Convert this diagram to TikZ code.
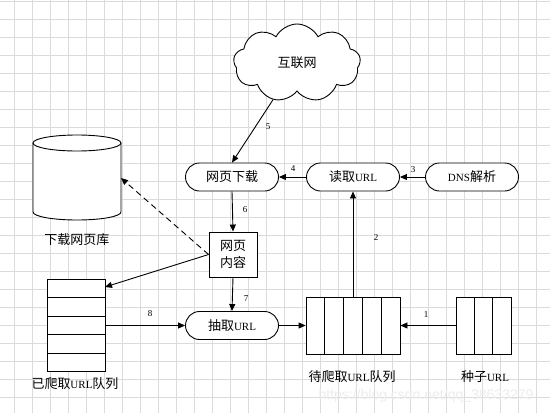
\documentclass[tikz,border=0pt]{standalone}
\usepackage{fontspec}
\setmainfont{Liberation Serif}
\newfontfamily\cjk{Noto Sans CJK SC}
\newfontfamily\wmfont{Liberation Sans}
\usetikzlibrary{arrows.meta,shapes.symbols}
\newcommand\myurl[1]{{\rmfamily\fontsize{11}{13}\selectfont #1}}
\begin{document}
\begin{tikzpicture}[x=1pt,y=-1pt,
  ln/.style={line width=0.9pt},
  arr/.style={ln,-{Triangle[length=7pt,width=6pt]}},
  stad/.style={draw,ln,fill=white,rounded corners=14pt,minimum width=93pt,minimum height=28pt,inner sep=0pt,font=\fontsize{13}{15}\selectfont\cjk},
  num/.style={font=\fontsize{9}{10}\selectfont,inner sep=1pt},
  lbl/.style={font=\fontsize{13}{15}\selectfont\cjk,inner sep=0pt},
  boxq/.style={draw,ln,fill=white,inner sep=0pt},
  gridline/.style={draw=black!14,line width=0.8pt}]
\useasboundingbox (0,0) rectangle (550,413);
\fill[white] (0,0) rectangle (550,413);
\foreach \i in {0,...,29} \draw[gridline] ({14+18*\i},0) -- ({14+18*\i},413);
\foreach \j in {0,...,22} \draw[gridline] (0,{1+18*\j}) -- (550,{1+18*\j});

% watermark
\node[font=\fontsize{14}{16}\selectfont\wmfont,text=black!7] (wm) at (426,396) {https://blog.csdn.net/qq\_38633279};

% cloud
\node[cloud,draw,ln,fill=white,cloud puffs=9,cloud puff arc=125,aspect=1.7,minimum width=127pt,minimum height=78pt,lbl] (cloud) at (297,63) {互联网};

% process nodes
\node[stad] (down) at (232,177) {网页下载};
\node[stad] (read) at (353,177) {读取\myurl{URL}};
\node[stad] (dns) at (472,177) {\myurl{DNS}解析};
\node[stad] (extract) at (232,325.5) {抽取\myurl{URL}};

% page content
\node[boxq,minimum width=48pt,minimum height=45pt,align=center,font=\fontsize{13}{17}\selectfont\cjk] (content) at (233,254.5) {网页\\内容};

% database cylinder
\path[fill=white] (33,143) -- (33,212) arc[start angle=180,end angle=360,x radius=44pt,y radius=8pt] -- (121,143) arc[start angle=0,end angle=180,x radius=44pt,y radius=8pt] -- cycle;
\draw[ln] (33,143) -- (33,212) arc[start angle=180,end angle=360,x radius=44pt,y radius=8pt] -- (121,143);
\draw[ln] (77,143) ellipse[x radius=44pt,y radius=8pt];
\coordinate (dbr) at (121,178);
\node[lbl] (dblabel) at (77,240) {下载网页库};

% crawled queue
\node[boxq,minimum width=58pt,minimum height=92pt] (q1) at (76,325) {};
\foreach \y in {297,316,334.5,353} \draw[ln] (47,\y) -- (105,\y);
\coordinate (q1in) at (105,287);
\node[lbl] (q1label) at (75,384) {已爬取\myurl{URL}队列};

% to-crawl queue
\node[boxq,minimum width=94pt,minimum height=57pt] (q2) at (353,325.5) {};
\foreach \x in {324.8,343.6,362.4,381.2} \draw[ln] (\x,297) -- (\x,354);
\node[lbl] (q2label) at (352,377) {待爬取\myurl{URL}队列};

% seed queue
\node[boxq,minimum width=55pt,minimum height=57pt] (q3) at (483.5,325.5) {};
\foreach \x in {474.2,492.8} \draw[ln] (\x,297) -- (\x,354);
\node[lbl] (q3label) at (485,377) {种子\myurl{URL}};

% connectors
\draw[arr] (q3.west) -- (q2.east);
\node[num] (n1) at (426,315) {1};
\draw[arr] (q2.north) -- (read.south);
\node[num] (n2) at (376,238) {2};
\draw[arr] (dns.west) -- (read.east);
\node[num] (n3) at (413,170) {3};
\draw[arr] (read.west) -- (down.east);
\node[num] (n4) at (293,169) {4};
\draw[arr] (cloud) -- (down.north);
\node[num] (n5) at (268,127) {5};
\draw[arr] (down.south) -- (content.north);
\node[num] (n6) at (245,210) {6};
\draw[arr] (content.south) -- (extract.north);
\node[num] (n7) at (246,299) {7};
\draw[arr] (q1.east |- extract.west) -- (extract.west);
\node[num] (n8) at (150,314) {8};
\draw[arr] (extract.east) -- (q2.west);
\draw[arr,dashed,dash pattern=on 6pt off 4pt] (content.west) -- (dbr);
\draw[arr] (content.west) -- (q1in);
\end{tikzpicture}
\end{document}
